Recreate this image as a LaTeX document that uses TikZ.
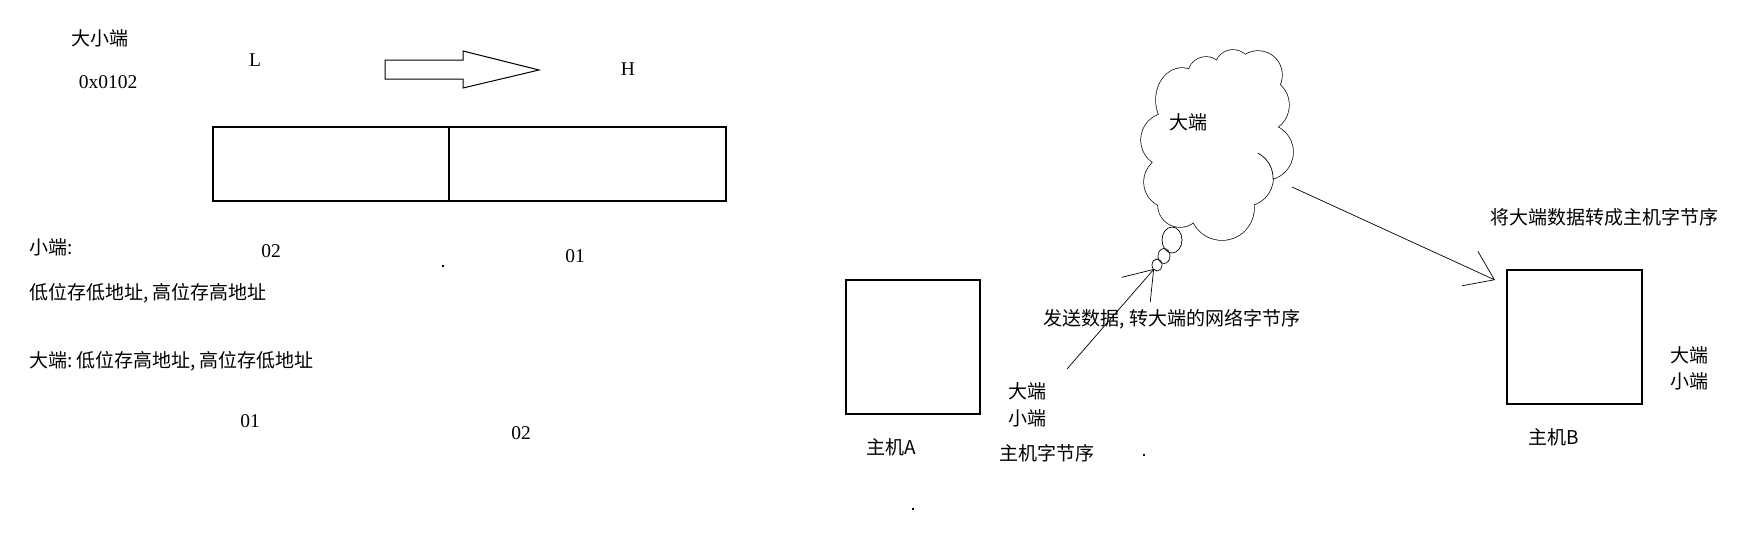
\documentclass[tikz,border=0pt]{standalone}
\usepackage{fontspec}
\setmainfont{Liberation Serif}
\newfontfamily\cjk{Noto Sans CJK SC}
\usetikzlibrary{arrows.meta}
\tikzset{
  zh/.style={inner sep=0pt, font=\cjk\fontsize{19}{22}\selectfont},
  lat/.style={inner sep=0pt, font=\fontsize{19.5}{22}\selectfont},
  cell/.style={draw, line width=1.1pt, inner sep=0pt},
  thin/.style={line width=0.7pt},
  barb/.style={thin, -{Straight Barb[length=27pt, width=38pt, line width=0.7pt]}},
  speck/.style={fill=black, inner sep=0pt, minimum size=2pt},
}
\newcommand\puffs{%
  (1182,100) ellipse [x radius=26pt, y radius=32pt]
  (1206,75) circle [radius=18pt]
  (1233,68) circle [radius=18pt]
  (1258,75) circle [radius=24pt]
  (1262,105) circle [radius=27pt]
  (1265,152) circle [radius=28pt]
  (1245,178) circle [radius=28pt]
  (1222,208) circle [radius=32pt]
  (1180,205) circle [radius=22pt]
  (1170,182) circle [radius=26pt]
  (1168,140) circle [radius=27pt]
  (1215,145) ellipse [x radius=50pt, y radius=70pt]}
\begin{document}
\begin{tikzpicture}[x=1pt,y=-1pt]
\useasboundingbox (0,0) rectangle (1753,547);

% ---------- left part ----------
\node[zh] (title) at (100,38.5) {大小端};
\node[lat] (hex) at (108,82) {0x0102};
\node[lat] (lowL) at (255,60) {L};
\node[lat] (highH) at (628,69) {H};
\draw[line width=1pt] (385,60) -- (463,60) -- (463,51) -- (539,70) -- (463,88) -- (463,79) -- (385,79) -- cycle;

\node[cell, minimum width=236pt, minimum height=74pt] (cellL) at (331,164) {};
\node[cell, minimum width=277pt, minimum height=74pt] (cellR) at (587.5,164) {};

\node[zh, anchor=west] (small) at (29,247) {小端:};
\node[lat] (s02) at (271,251) {02};
\node[speck] (dot1) at (443,266) {};
\node[lat] (s01) at (575,256) {01};
\node[zh, anchor=west] (smalldesc) at (29,293.5) {低位存低地址,\hspace{4pt}高位存高地址};
\node[zh, anchor=west] (bigdesc) at (29,361) {大端:\hspace{4pt}低位存高地址,\hspace{4pt}高位存低地址};
\node[lat] (b01) at (250,421) {01};
\node[lat] (b02) at (521,433) {02};

% ---------- right part ----------
\node[cell, minimum width=134pt, minimum height=134pt] (boxA) at (913,347) {};
\node[zh] (hostA) at (891,447) {主机A};
\node[zh] (aBig) at (1027,391) {大端};
\node[zh] (aSmall) at (1027,418) {小端};
\node[zh] (aOrder) at (1047,453) {主机字节序};
\node[speck] (dot2) at (1144,455) {};
\node[speck] (dot3) at (913,509) {};

% cloud: outline of the union of puffs, with one inner arc
\draw[line width=1.4pt] \puffs;
\fill[white] \puffs;
\draw[thin] (1245,178) ++(-63:28) arc[start angle=-63, end angle=3, radius=28];
\coordinate (cloud) at (1217,145);
\node[zh] (cloudtxt) at (1188,122) {大端};
\draw[thin, fill=white] (1172,240) ellipse [x radius=10pt, y radius=13pt];
\draw[thin] (1164,256) ellipse [x radius=6pt, y radius=7.5pt];
\draw[thin] (1157,265) ellipse [x radius=5pt, y radius=6pt];
\coordinate (bubbletip) at (1154,269);

\node[zh] (sendtxt) at (1172,319) {发送数据,\hspace{4pt}转大端的网络字节序};
\coordinate (sendfrom) at (1067,369);
\draw[barb] (sendfrom) -- (bubbletip);

\coordinate (cloudout) at (1292,187);
\coordinate (Btip) at (1495,280);
\draw[barb] (cloudout) -- (Btip);
\node[zh] (convtxt) at (1604,217) {将大端数据转成主机字节序};

\node[cell, minimum width=135pt, minimum height=134pt] (boxB) at (1574.5,337) {};
\node[zh] (hostB) at (1554,437) {主机B};
\node[zh] (bBig) at (1689,355) {大端};
\node[zh] (bSmall) at (1689,381) {小端};
\end{tikzpicture}
\end{document}
